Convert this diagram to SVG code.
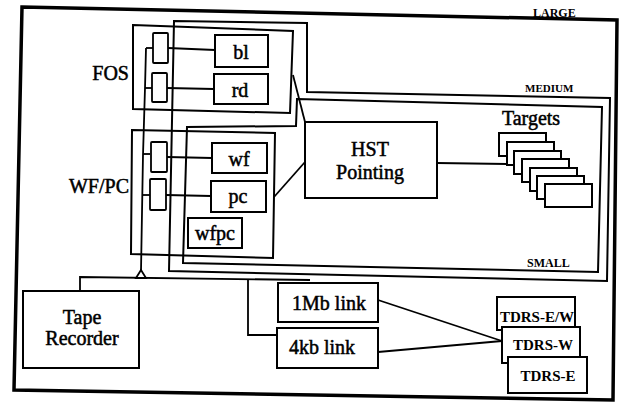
<svg xmlns="http://www.w3.org/2000/svg" width="623" height="407" viewBox="0 0 623 407">
<style>
.frame{fill:none;stroke:#000;stroke-width:2;stroke-linejoin:miter}
.outer{fill:none;stroke:#000;stroke-width:3.5}
.box{fill:#fff;stroke:#000;stroke-width:2}
.port{fill:#fff;stroke:#000;stroke-width:1.8}
.ln{fill:none;stroke:#000;stroke-width:1.8}
.t{font-family:"Liberation Serif","Times New Roman",serif;font-size:20px;fill:#000;stroke:#000;stroke-width:0.5;text-anchor:middle}
.tr{font-family:"Liberation Serif","Times New Roman",serif;font-size:20px;fill:#000;stroke:#000;stroke-width:0.5;text-anchor:end}
.td{font-family:"Liberation Serif","Times New Roman",serif;font-size:15px;font-weight:bold;fill:#000;text-anchor:middle}
.sc{font-family:"Liberation Serif","Times New Roman",serif;font-size:12px;font-weight:bold;fill:#000}
</style>
<rect width="623" height="407" fill="#fff"/>
<g id="large">
<polygon class="outer" points="22,7 617,20 613,400 14,390"/>
<text class="sc" x="533" y="17">LARGE</text>
</g>
<g id="medium">
<polygon class="frame" points="174,21 307,23 307,92 610,98 607,281 169,271"/>
<text class="sc" x="525" y="92" style="font-size:11px">MEDIUM</text>
</g>
<g id="small">
<polygon class="frame" points="297,99 602,107 598,272 183,263 187,127 296,126"/>
<text class="sc" x="527" y="267">SMALL</text>
</g>
<g id="fos">
<polygon class="frame" points="133,25 293,31 290,113 133,109"/>
<text class="tr" x="129" y="80">FOS</text>
</g>
<g id="wfpc-group">
<polygon class="frame" points="132,130 275,133 273,258 131,254"/>
<text class="tr" x="129" y="193">WF/PC</text>
</g>
<g id="connectors">
<polyline class="ln" points="146,48 145,88 143,155 141,271"/>
<line class="ln" x1="146" y1="48" x2="153" y2="48"/>
<line class="ln" x1="145" y1="88" x2="152" y2="88"/>
<line class="ln" x1="143" y1="154" x2="150" y2="154"/>
<line class="ln" x1="142" y1="195" x2="150" y2="195"/>
<line class="ln" x1="168" y1="48" x2="215" y2="50"/>
<line class="ln" x1="167" y1="88" x2="214" y2="89"/>
<line class="ln" x1="167" y1="157" x2="212" y2="158"/>
<line class="ln" x1="166" y1="195" x2="211" y2="196"/>
<line class="ln" x1="293" y1="75" x2="305" y2="122"/>
<line class="ln" x1="274" y1="197" x2="305" y2="162"/>
<line class="ln" x1="437" y1="163" x2="507" y2="164"/>
<polyline class="ln" points="80,291 80,277 310,280"/>
<polyline class="ln" points="248,279 248,335 277,335"/>
<line class="ln" x1="378" y1="300" x2="502" y2="341"/>
<line class="ln" x1="378" y1="352" x2="502" y2="341"/>
<polygon points="136,278 141,270 146,278" fill="#fff" stroke="#000" stroke-width="1.8"/>
</g>
<g id="ports">
<rect class="port" x="153" y="33" width="15" height="30" rx="1"/>
<rect class="port" x="152" y="73" width="15" height="29" rx="1"/>
<rect class="port" x="151" y="142" width="16" height="30" rx="1"/>
<rect class="port" x="150" y="179" width="16" height="31" rx="1"/>
</g>
<g id="bl"><rect class="box" x="215" y="35" width="53" height="32"/><text class="t" x="241" y="59">bl</text></g>
<g id="rd"><rect class="box" x="214" y="74" width="54" height="30"/><text class="t" x="240" y="97">rd</text></g>
<g id="wf"><rect class="box" x="212" y="143" width="55" height="30"/><text class="t" x="239" y="166">wf</text></g>
<g id="pc"><rect class="box" x="211" y="181" width="55" height="31"/><text class="t" x="238" y="203">pc</text></g>
<g id="wfpc"><rect class="box" x="188" y="218" width="54" height="30"/><text class="t" x="215" y="240">wfpc</text></g>
<g id="hst"><rect class="box" x="305" y="122" width="132" height="76"/><text class="t" x="370" y="156">HST</text><text class="t" x="370" y="179">Pointing</text></g>
<g id="targets">
<text class="t" x="531" y="125">Targets</text>
<rect class="box" x="499" y="133" width="47" height="23"/>
<rect class="box" x="507" y="142" width="47" height="23"/>
<rect class="box" x="514" y="151" width="47" height="23"/>
<rect class="box" x="522" y="159" width="47" height="23"/>
<rect class="box" x="530" y="168" width="47" height="23"/>
<rect class="box" x="537" y="176" width="47" height="23"/>
<rect class="box" x="545" y="184" width="47" height="23"/>
</g>
<g id="tape"><rect class="box" x="23" y="291" width="116" height="77"/><text class="t" x="82" y="324">Tape</text><text class="t" x="82" y="345">Recorder</text></g>
<g id="link1"><rect class="box" x="278" y="283" width="100" height="39"/><text class="t" x="329" y="310">1Mb link</text></g>
<g id="link4"><rect class="box" x="277" y="328" width="101" height="40"/><text class="t" x="322" y="354">4kb link</text></g>
<g id="tdrs-ew"><rect class="box" x="497" y="297" width="78" height="33"/><text class="td" x="537" y="322">TDRS-E/W</text></g>
<g id="tdrs-w"><rect class="box" x="502" y="327" width="78" height="36"/><text class="td" x="543" y="350">TDRS-W</text></g>
<g id="tdrs-e"><rect class="box" x="508" y="357" width="79" height="36"/><text class="td" x="548" y="381">TDRS-E</text></g>
</svg>
